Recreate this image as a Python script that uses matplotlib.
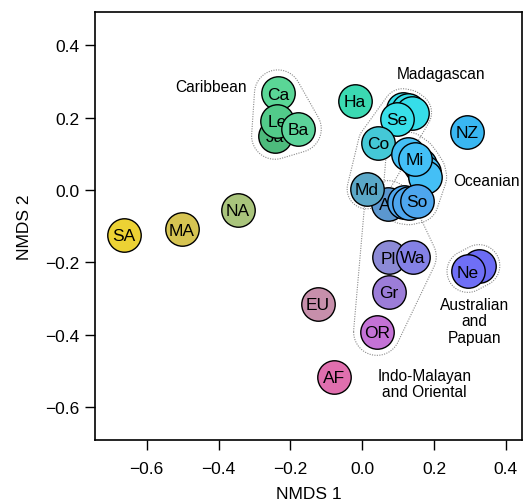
import numpy as np
import matplotlib
matplotlib.use("Agg")
from matplotlib import pyplot as plt

plt.rcParams['font.family'] = ['Liberation Sans', 'DejaVu Sans']

# sites in drawing order (later ones sit on top); '' = circle hidden behind a neighbour
names = ['SA', 'MA', 'NA', 'EU', 'AF',
         'Ca', 'Ja', 'Le', 'Ba',
         'Ha', '', '', '', 'Se', 'Co', 'NZ',
         '', '', '', '', 'Mi',
         'Ar', 'Md', '', '', 'So',
         'Pl', 'Wa', 'Gr', 'OR',
         '', 'Ne']
nmds1 = [-0.663, -0.502, -0.346, -0.123, -0.079,
         -0.235, -0.243, -0.237, -0.179,
         -0.020, 0.113, 0.127, 0.138, 0.097, 0.044, 0.291,
         0.127, 0.160, 0.172, 0.175, 0.147,
         0.072, 0.013, 0.116, 0.130, 0.152,
         0.074, 0.141, 0.074, 0.041,
         0.325, 0.294]
nmds2 = [-0.123, -0.109, -0.056, -0.314, -0.517,
         0.267, 0.150, 0.192, 0.169,
         0.247, 0.225, 0.222, 0.214, 0.197, 0.130, 0.161,
         0.100, 0.069, 0.050, 0.036, 0.086,
         -0.039, 0.003, -0.034, -0.036, -0.031,
         -0.186, -0.184, -0.281, -0.392,
         -0.209, -0.225]
colors = ['#ecd234', '#d6c452', '#a9c47c', '#c78fab', '#e06fae',
          '#5ad696', '#4dbb7c', '#52cb8a', '#5cd39a',
          '#3bd9b2', '#36dde9', '#36dde9', '#36dde9', '#39e0ea', '#44c8d6', '#39b7f2',
          '#44bff6', '#44bff6', '#44bff6', '#44bff6', '#43c0f7',
          '#5b97cf', '#5aa7c7', '#4ea6ee', '#4ea6ee', '#4ea6ee',
          '#8c8ad6', '#8481e6', '#9c7dd8', '#c472d6',
          '#6c6cf4', '#6f6ff6']

# region outlines: members (by index) and padding
groups = {
    'Caribbean': ([5, 6, 7, 8], 0.065),
    'Madagascan': ([10, 11, 12, 13, 14, 22], 0.055),
    'Oceanian': ([16, 17, 18, 19, 20, 23, 24, 25], 0.06),
    'Indo-Malayan': ([21, 26, 27, 28, 29], 0.065),
    'Australian': ([30, 31], 0.058),
}
group_labels = ['Caribbean', 'Madagascan', 'Oceanian',
                'Australian\nand\nPapuan', 'Indo-Malayan\nand Oriental']
label_x = [-0.42, 0.22, 0.347, 0.312, 0.173]
label_y = [0.285, 0.322, 0.025, -0.362, -0.535]


def hull(pts):
    pts = sorted(map(tuple, pts))
    def cross(o, a, b):
        return (a[0] - o[0]) * (b[1] - o[1]) - (a[1] - o[1]) * (b[0] - o[0])
    lower, upper = [], []
    for p in pts:
        while len(lower) >= 2 and cross(lower[-2], lower[-1], p) <= 0:
            lower.pop()
        lower.append(p)
    for p in reversed(pts):
        while len(upper) >= 2 and cross(upper[-2], upper[-1], p) <= 0:
            upper.pop()
        upper.append(p)
    return np.array(lower[:-1] + upper[:-1])


fig = plt.figure(figsize=(5.24, 5.02), dpi=100)
ax = fig.add_axes([0.1813, 0.1215, 0.815, 0.8526])

t = np.linspace(0, 2 * np.pi, 60, endpoint=False)
for key, (idx, pad) in groups.items():
    ring = []
    for i in idx:
        ring += list(zip(nmds1[i] + pad * np.cos(t), nmds2[i] + pad * np.sin(t)))
    h = hull(ring)
    h = np.vstack([h, h[:1]])
    ax.plot(h[:, 0], h[:, 1], color='#8a8a8a', lw=0.8,
            linestyle=(0, (1, 1.2)), zorder=1)

for i, (n, x, y, c) in enumerate(zip(names, nmds1, nmds2, colors)):
    ax.scatter(x, y, s=580, color=c, edgecolor='black', linewidth=1.0,
               zorder=10 + 2 * i)
    if n:
        ax.text(x, y - 0.002, n, ha='center', va='center', fontsize=12.5,
                zorder=11 + 2 * i)

for lab, x, y in zip(group_labels, label_x, label_y):
    ax.text(x, y, lab, ha='center', va='center', fontsize=11.2,
            linespacing=1.1, zorder=100)

ax.set_xlim(-0.744, 0.445)
ax.set_ylim(-0.691, 0.492)
ax.set_xticks([-0.6, -0.4, -0.2, 0.0, 0.2, 0.4])
ax.set_yticks([-0.6, -0.4, -0.2, 0.0, 0.2, 0.4])
ax.tick_params(direction='out', length=7, width=1, labelsize=12.5, pad=4)
ax.tick_params(axis='x', pad=8)
for sp in ax.spines.values():
    sp.set_linewidth(1.2)
ax.set_xlabel('NMDS 1', fontsize=12.5, labelpad=7)
ax.set_ylabel('NMDS 2', fontsize=12.5, labelpad=10)

plt.savefig('out.png', dpi=100)
